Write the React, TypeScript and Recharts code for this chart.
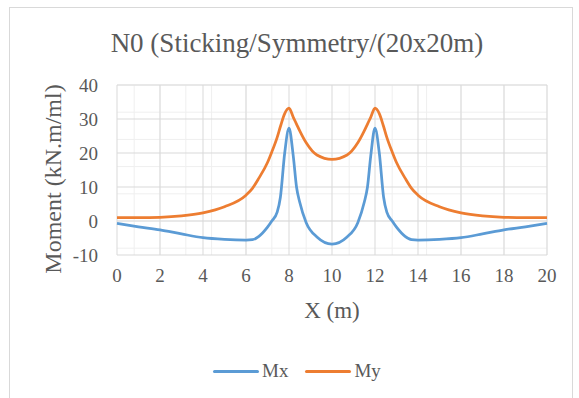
import { LineChart, Line, XAxis, YAxis, CartesianGrid } from "recharts";

// bending moments along the strip
const X_POS = [
  0, 1, 2, 3, 4, 5, 6, 6.3, 6.6, 7.0, 7.2, 7.45, 7.6, 7.8, 8.0, 8.2, 8.35, 8.5, 8.8, 9.3, 10,
  10.7, 11.2, 11.5, 11.65, 11.8, 12.0, 12.2, 12.4, 12.55, 12.8, 13.0, 13.4, 13.7, 14, 15, 16, 17, 18, 19, 20,
];
const MX = [
  -0.7, -1.7, -2.6, -3.8, -4.9, -5.4, -5.6, -5.5, -4.5, -1.8, 0, 2.6, 7, 20, 27.3, 19, 10, 5.5, -0.5, -4.7, -6.8,
  -4.7, -0.5, 5.5, 10, 19, 27.3, 20, 7, 2.6, 0, -1.8, -4.5, -5.5, -5.6, -5.4, -4.9, -3.8, -2.6, -1.7, -0.7,
];
const MY = [
  1.0, 1.0, 1.1, 1.5, 2.4, 4.2, 7.6, 9.6, 12.6, 17.2, 20.3, 24.6, 27.8, 31.6, 33.2, 30.5, 28.5, 26.5, 23, 19.4, 18.1,
  19.4, 23, 26.5, 28.5, 30.5, 33.2, 31.6, 27.8, 24.6, 20.3, 17.2, 12.6, 9.6, 7.6, 4.2, 2.4, 1.5, 1.1, 1.0, 1.0,
];

const X_TICKS = [0, 2, 4, 6, 8, 10, 12, 14, 16, 18, 20];
const Y_TICKS = [-10, 0, 10, 20, 30, 40];

const SERIES = [
  { key: "mx", name: "Mx", color: "#5b9bd5" },
  { key: "my", name: "My", color: "#ed7d31" },
];

const TEXT = "#595959";
const FONT = '"Liberation Serif", Tinos, "Times New Roman", Times, "DejaVu Serif", serif';

// minor grid: 5 subdivisions between majors
const minorX: number[] = [];
for (let i = 0; i <= 50; i++) minorX.push(i * 0.4);
const minorY: number[] = [];
for (let i = 0; i <= 25; i++) minorY.push(-10 + i * 2);

export default function App() {
  const data = X_POS.map((x, i) => ({ x, mx: MX[i], my: MY[i] }));
  const tick = { fill: TEXT, fontSize: 19, fontFamily: FONT };

  return (
    <div
      style={{
        position: "absolute",
        left: 0,
        top: 0,
        width: 579,
        height: 398,
        overflow: "hidden",
        background: "#fff",
        fontFamily: FONT,
        color: TEXT,
      }}
    >
      <div
        style={{
          position: "absolute",
          left: 9,
          top: 7,
          width: 562,
          height: 420,
          border: "1px solid #d9d9d9",
        }}
      />
      <div
        style={{
          position: "absolute",
          left: 0,
          top: 29,
          width: 594,
          textAlign: "center",
          fontSize: 27,
          lineHeight: "28px",
        }}
      >
        N0 (Sticking/Symmetry/(20x20m)
      </div>

      <div style={{ position: "absolute", left: 0, top: 0 }}>
        <LineChart
          width={579}
          height={398}
          data={data}
          margin={{ top: 85, right: 32, left: 57, bottom: 113 }}
          style={{ fontFamily: FONT }}
        >
          <CartesianGrid
            stroke="#efefef"
            strokeWidth={1}
            horizontalValues={minorY}
            verticalValues={minorX}
          />
          <CartesianGrid stroke="#d9d9d9" strokeWidth={1} />
          <XAxis
            dataKey="x"
            type="number"
            domain={[0, 20]}
            ticks={X_TICKS}
            axisLine={false}
            tickLine={false}
            tickSize={0}
            tickMargin={14}
            height={30}
            tick={tick}
          />
          <YAxis
            type="number"
            domain={[-10, 40]}
            ticks={Y_TICKS}
            axisLine={false}
            tickLine={false}
            tickSize={0}
            tickMargin={19}
            width={60}
            tick={tick}
          />
          {SERIES.map((s) => (
            <Line
              key={s.key}
              type="monotone"
              dataKey={s.key}
              name={s.name}
              stroke={s.color}
              strokeWidth={2.75}
              dot={false}
              isAnimationActive={false}
            />
          ))}
        </LineChart>
      </div>

      <div
        style={{
          position: "absolute",
          left: 40,
          top: 179,
          width: 0,
          height: 0,
        }}
      >
        <div
          style={{
            position: "absolute",
            left: -110,
            top: -14,
            width: 220,
            textAlign: "center",
            fontSize: 24,
            lineHeight: "28px",
            whiteSpace: "nowrap",
            transform: "rotate(-90deg)",
            transformOrigin: "50% 50%",
            marginLeft: 13,
          }}
        >
          Moment (kN.m/ml)
        </div>
      </div>

      <div
        style={{
          position: "absolute",
          left: 232,
          top: 297,
          width: 200,
          textAlign: "center",
          fontSize: 23,
          lineHeight: "28px",
        }}
      >
        X (m)
      </div>

      <div
        style={{
          position: "absolute",
          left: 213,
          top: 359,
          display: "flex",
          alignItems: "center",
          fontSize: 19,
          lineHeight: "24px",
        }}
      >
        {SERIES.map((s, i) => (
          <div
            key={s.key}
            style={{ display: "flex", alignItems: "center", marginLeft: i ? 17 : 0 }}
          >
            <div
              style={{
                width: 46,
                height: 3,
                borderRadius: 2,
                background: s.color,
                marginRight: 3,
              }}
            />
            <span>{s.name}</span>
          </div>
        ))}
      </div>
    </div>
  );
}
